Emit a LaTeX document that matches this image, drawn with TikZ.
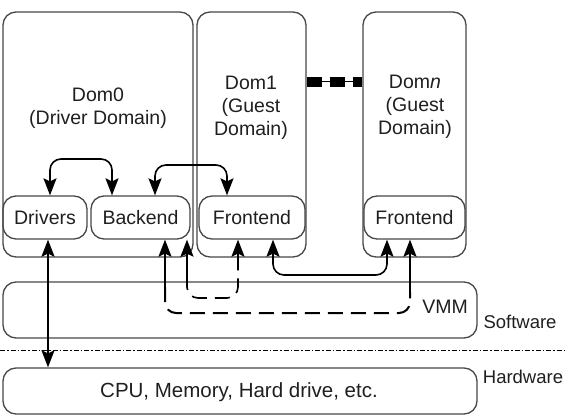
\documentclass[tikz,border=0pt]{standalone}
\usepackage{fontspec}
\setmainfont{Liberation Sans}
\usetikzlibrary{arrows.meta}
\begin{document}
\begin{tikzpicture}[x=1pt,y=-1pt,
  bigtip/.tip={Stealth[length=17pt,width=13pt,inset=3pt]},
  box/.style={draw=black!72,line width=1.3pt,rounded corners=13pt,inner sep=0pt},
  ibox/.style={box,font=\fontsize{19.5}{22}\selectfont,text=black!88},
  txt/.style={font=\fontsize{19.5}{23}\selectfont,text=black!88,align=center,inner sep=0pt},
  side/.style={font=\fontsize{18.5}{22}\selectfont,text=black!88,inner sep=0pt},
  conn/.style={draw=black,line width=1.6pt,rounded corners=11pt},
  dconn/.style={draw=black,line width=2pt,dash pattern=on 15pt off 8pt,rounded corners=11pt}]
\useasboundingbox (0,0) rectangle (565,417);
% domains
\node[box,minimum width=190pt,minimum height=245pt] (dom0) at (98,134.5) {};
\node[box,minimum width=109pt,minimum height=245pt] (dom1) at (251.5,134.5) {};
\node[box,minimum width=103pt,minimum height=245pt] (domn) at (414.5,134.5) {};
\node[txt] (lab0) at (98,108) {Dom0\\(Driver Domain)};
\node[txt] (lab1) at (251,108) {Dom1\\(Guest\\Domain)};
\node[txt] (labn) at (415,107) {Dom\textit{n}\\(Guest\\Domain)};
% dots
\coordinate (d1) at (dom1.east |- 0,82);
\coordinate (d2) at (domn.west |- 0,82);
\draw[line width=1pt] (d1) -- (d2);
\draw[line width=10pt,dash pattern=on 15pt off 8pt] (d1) -- (d2);
% inner boxes
\node[ibox,minimum width=84pt,minimum height=43pt] (drv) at (45,217.5) {Drivers};
\node[ibox,minimum width=99pt,minimum height=43pt] (bk) at (140.5,217.5) {Backend};
\node[ibox,minimum width=106pt,minimum height=43pt] (fe1) at (252,217.5) {Frontend};
\node[ibox,minimum width=101pt,minimum height=43pt] (fen) at (414.5,217.5) {Frontend};
% VMM and hardware
\node[box,minimum width=474pt,minimum height=56pt] (vmm) at (240,310) {};
\node[txt] (vmmtxt) at (445,307) {VMM};
\node[side] (sw) at (520,322) {Software};
\coordinate (sepl) at (0,350);
\coordinate (sepr) at (565,350);
\draw[line width=0.9pt,dash pattern=on 5pt off 2pt on 1.5pt off 2pt] (sepl) -- (sepr);
\node[box,minimum width=474pt,minimum height=46pt] (hw) at (240,391) {};
\node[txt,font=\fontsize{20.5}{23}\selectfont] (hwtxt) at (239,392) {CPU, Memory, Hard drive, etc.};
\node[side] (hwlab) at (523,377) {Hardware};
% top arrows
\draw[conn,{bigtip}-{bigtip}] (drv.north -| 50,0) -- (50,159) -- (112,159) -- (bk.north -| 112,0);
\draw[conn,{bigtip}-{bigtip}] (bk.north -| 155,0) -- (155,165) -- (227,165) -- (fe1.north -| 227,0);
% drivers to hardware
\draw[conn,{bigtip}-{bigtip}] (drv.south -| 48,0) -- (hw.north -| 48,0);
% path A
\coordinate (a1) at (165,287);
\coordinate (a2) at (410,292);
\draw[conn,-{bigtip}] (a1) -- (bk.south -| 165,0);
\draw[dconn] (a1) -- (165,313) -- (410,313) -- (a2);
\draw[conn,-{bigtip}] (a2) -- (fen.south -| 410,0);
% path B
\coordinate (b1) at (187,275);
\coordinate (b2) at (238,270);
\draw[conn,-{bigtip}] (b1) -- (bk.south -| 187,0);
\draw[dconn,line width=1.6pt] (b1) -- (187,298) -- (238,298) -- (b2);
\draw[conn,-{bigtip}] (b2) -- (fe1.south -| 238,0);
% path C
\draw[conn,{bigtip}-{bigtip}] (fe1.south -| 273,0) -- (273,275) -- (387,275) -- (fen.south -| 387,0);
\end{tikzpicture}
\end{document}
